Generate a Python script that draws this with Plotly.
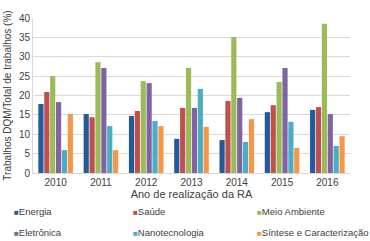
import plotly.graph_objects as go

years = ["2010", "2011", "2012", "2013", "2014", "2015", "2016"]
energia = [17.8, 15.2, 14.7, 8.8, 8.5, 15.7, 16.3]
saude = [20.9, 14.4, 16.0, 16.8, 18.6, 17.5, 17.0]
meio_ambiente = [25.0, 28.6, 23.7, 27.1, 35.1, 23.5, 38.5]
eletronica = [18.3, 27.1, 23.2, 16.8, 19.4, 27.1, 15.2]
nanotecnologia = [5.9, 12.1, 13.4, 21.7, 8.0, 13.2, 7.0]
sintese = [15.2, 5.9, 12.1, 11.9, 13.9, 6.5, 9.5]

series = [
    ("Energia", energia, "#245A9C"),
    ("Saúde", saude, "#C0504D"),
    ("Meio Ambiente", meio_ambiente, "#9BBB59"),
    ("Eletrônica", eletronica, "#8064A2"),
    ("Nanotecnologia", nanotecnologia, "#4BACC6"),
    ("Síntese e Caracterização", sintese, "#F79646"),
]

fig = go.Figure()
for name, vals, col in series:
    fig.add_trace(go.Bar(x=years, y=vals, name=name, showlegend=False,
                         marker=dict(color=col, line=dict(width=0))))

# legend drawn as text entries in a 3-column grid (matches reference layout)
col_x = [12, 131, 255]
row_y = [211, 232]
for i, (name, vals, col) in enumerate(series):
    r, c = divmod(i, 3)
    fig.add_annotation(
        xref="paper", yref="paper",
        x=(col_x[c] - 33) / 317, y=(241 - 68 - row_y[r]) / 155,
        xanchor="left", yanchor="middle", showarrow=False,
        text=f"<span style='color:{col};font-size:8px'>■</span>{name}",
        font=dict(size=9.5, color="#404040"),
    )

font = "Liberation Sans, Arial, sans-serif"
fig.update_layout(
    width=370, height=241,
    margin=dict(l=33, r=20, t=18, b=68, autoexpand=False),
    paper_bgcolor="white", plot_bgcolor="white",
    barmode="group", bargap=0.22, bargroupgap=0.12,
    font=dict(family=font, size=10, color="#404040"),
    xaxis=dict(
        title=dict(text="Ano de realização da RA", font=dict(size=11, color="#404040"), standoff=0),
        showline=True, linecolor="#D9D9D9", ticks="", tickfont=dict(size=10),
    ),
    yaxis=dict(
        title=dict(text="Trabalhos DQM/Total de trabalhos (%)", font=dict(size=10, color="#404040"), standoff=5),
        range=[0, 40], dtick=5, showgrid=True, gridcolor="#D9D9D9",
        showline=True, linecolor="#D9D9D9", tickfont=dict(size=10), zeroline=False,
    ),
)
fig.write_html("out.html", config={"displayModeBar": False},
               post_script="document.body.style.margin='0';")
